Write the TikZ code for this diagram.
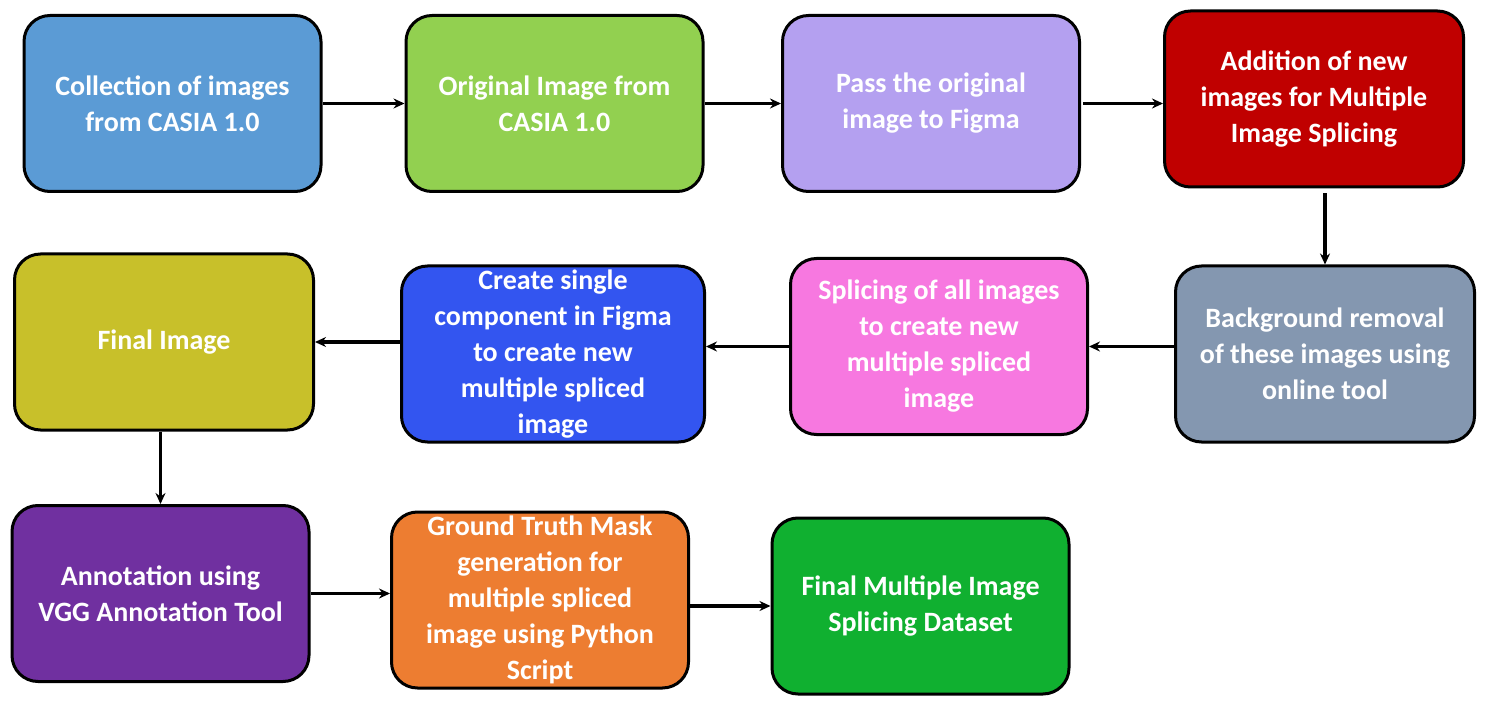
\documentclass[tikz,border=0pt]{standalone}
\usepackage{fontspec}
\setmainfont{Carlito}
\usetikzlibrary{arrows.meta}
\definecolor{cA}{HTML}{5B9BD5}
\definecolor{cB}{HTML}{92D050}
\definecolor{cC}{HTML}{B4A0F0}
\definecolor{cD}{HTML}{C00000}
\definecolor{cE}{HTML}{8497B0}
\definecolor{cF}{HTML}{F778E0}
\definecolor{cG}{HTML}{3355F0}
\definecolor{cH}{HTML}{C8C02A}
\definecolor{cI}{HTML}{7030A0}
\definecolor{cJ}{HTML}{ED7D31}
\definecolor{cK}{HTML}{10B030}
\tikzset{
  box/.style={draw=black, line width=3pt, rounded corners=26pt, minimum width=#1pt-3pt, minimum height=176pt,
    text=white, font=\fontsize{28}{36}\selectfont\bfseries, align=center, inner sep=0pt},
  box/.default=300,
  arr/.style={line width=3.2pt, -{Stealth[length=11pt,width=10pt]}},
}
\begin{document}
\begin{tikzpicture}[x=1pt,y=-1pt]
\useasboundingbox (0,0) rectangle (1485,703);
\node[box, fill=cA] (n1) at (172.5,103.5) {Collection of images\\from CASIA 1.0};
\node[box, fill=cB] (n2) at (554.5,103.5) {Original Image from\\CASIA 1.0};
\node[box, fill=cC] (n3) at (931,103.5) {Pass the original\\image to Figma};
\node[box=302, fill=cD] (n4) at (1314,99) {Addition of new\\images for Multiple\\Image Splicing};
\node[box=302, fill=cE] (n5) at (1325,354) {Background removal\\of these images using\\online tool};
\node[box, fill=cF] (n6) at (939,346.5) {Splicing of all images\\to create new\\multiple spliced\\image};
\node[box=306, fill=cG] (n7) at (553,354) {Create single\\component in Figma\\to create new\\multiple spliced\\image};
\node[box=302, fill=cH] (n8) at (164,342) {Final Image};
\node[box, fill=cI] (n9) at (160.5,593.5) {Annotation using\\VGG Annotation Tool};
\node[box, fill=cJ] (n10) at (540,600) {Ground Truth Mask\\generation for\\multiple spliced\\image using Python\\Script};
\node[box, fill=cK] (n11) at (920.5,606) {Final Multiple Image\\Splicing Dataset};

\draw[arr] (n1) -- (n2);
\draw[arr] (n2) -- (n3);
\draw[arr] (n3.east) ++(2,0) -- (n3.east -| n4.west);
\draw[arr, shorten <=5pt] (n4.south -| n5.north) -- (n5.north);
\draw[arr] (n6.east -| n5.west) -- (n6.east);
\draw[arr] (n6.west) -- (n6.west -| n7.east);
\draw[arr] (n8.east -| n7.west) -- (n8.east);
\draw[arr] (n8.south -| n9.north) -- (n9.north);
\draw[arr] (n9.east) -- (n9.east -| n10.west);
\draw[arr] (n11.west -| n10.east) -- (n11.west);
\end{tikzpicture}
\end{document}
